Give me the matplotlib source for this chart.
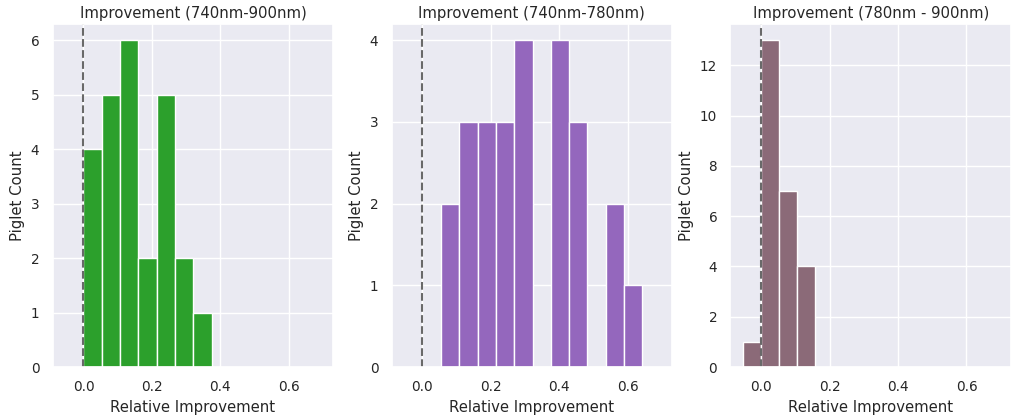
import numpy as np
import matplotlib
matplotlib.use('Agg')
import matplotlib.pyplot as plt
from matplotlib.ticker import MaxNLocator
import seaborn as sns

sns.set_theme(style='darkgrid', font_scale=0.89)

# histogram counts, per panel
titles = ['Improvement (740nm-900nm)', 'Improvement (740nm-780nm)', 'Improvement (780nm - 900nm)']
counts_full = [4, 5, 6, 2, 5, 2, 1]
range_full = (0.0, 0.375)
counts_short = [2, 3, 3, 3, 4, 0, 4, 3, 0, 2, 1]
range_short = (0.055, 0.643)
counts_long = [1, 13, 7, 4]
range_long = (-0.053, 0.158)
colors = ['#2ca02c', '#9467bd', '#8b6a78']

panels = [(counts_full, range_full), (counts_short, range_short), (counts_long, range_long)]

fig, axes = plt.subplots(1, 3, figsize=(10.13, 4.19), dpi=100)

for ax, (counts, rng), title, col in zip(axes, panels, titles, colors):
    n = len(counts)
    edges = np.linspace(rng[0], rng[1], n + 1)
    centers = (edges[:-1] + edges[1:]) / 2
    ax.hist(centers, bins=edges, weights=counts, color=col, edgecolor='white', linewidth=1)
    ax.axvline(0, color='dimgray', linestyle='--', linewidth=1.5)
    ax.set_xlim(-0.09, 0.73)
    ax.set_xticks([0.0, 0.2, 0.4, 0.6])
    ax.yaxis.set_major_locator(MaxNLocator(integer=True))
    ax.set_title(title, pad=4)
    ax.set_xlabel('Relative Improvement')
    ax.set_ylabel('Piglet Count')

plt.subplots_adjust(left=0.052, right=0.998, bottom=0.124, top=0.943, wspace=0.208)
plt.savefig('out.png', dpi=100)
